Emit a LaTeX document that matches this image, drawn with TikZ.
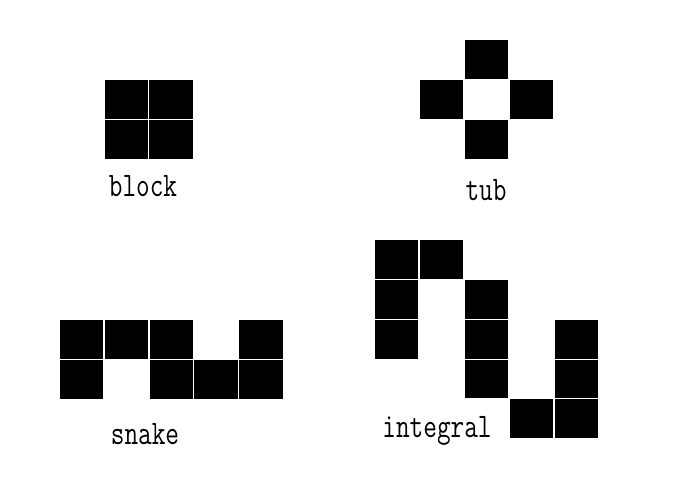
\documentclass[tikz,border=0pt]{standalone}
\usepackage{graphicx}
\begin{document}
\begin{tikzpicture}[x=1pt,y=-1pt,
  cell/.style={fill=black,inner sep=0pt,outer sep=0pt,minimum width=43.8pt,minimum height=38.7pt},
  lbl/.style={font=\fontsize{26.5}{28}\selectfont\ttfamily,inner sep=0pt}]
\useasboundingbox (0,0) rectangle (673,478);
\newcommand{\mycell}[3]{\node[cell] (#1) at ({#2+22.4},{#3+19.85}) {};}
\newcommand{\tall}[1]{\scalebox{1}[1.3]{#1}}
% block
\mycell{b1}{104}{80}\mycell{b2}{148.8}{80}
\mycell{b3}{104}{119.7}\mycell{b4}{148.8}{119.7}
\node[lbl] (lblock) at (143,186) {\tall{block}};
% tub
\mycell{t1}{464}{40}
\mycell{t2}{419}{80}\mycell{t3}{509}{80}
\mycell{t4}{464}{120}
\node[lbl] (ltub) at (486,190) {\tall{tub}};
% snake
\mycell{s1}{59}{320}\mycell{s2}{104}{320}\mycell{s3}{149}{320}\mycell{s4}{238.5}{320}
\mycell{s5}{59}{359.5}\mycell{s6}{149}{359.5}\mycell{s7}{193.8}{359.5}\mycell{s8}{238.5}{359.5}
\node[lbl] (lsnake) at (145,434) {\tall{snake}};
% integral
\mycell{i1}{374}{240}\mycell{i2}{419}{240}
\mycell{i3}{374}{279.7}\mycell{i4}{464}{279.7}
\mycell{i5}{374}{319.4}\mycell{i6}{464}{319.4}\mycell{i7}{554}{319.4}
\mycell{i8}{464}{359.1}\mycell{i9}{554}{359.1}
\mycell{i10}{509}{398.8}\mycell{i11}{554}{398.8}
\node[lbl] (lintegral) at (437,431) {\tall{integral}};
\end{tikzpicture}
\end{document}
